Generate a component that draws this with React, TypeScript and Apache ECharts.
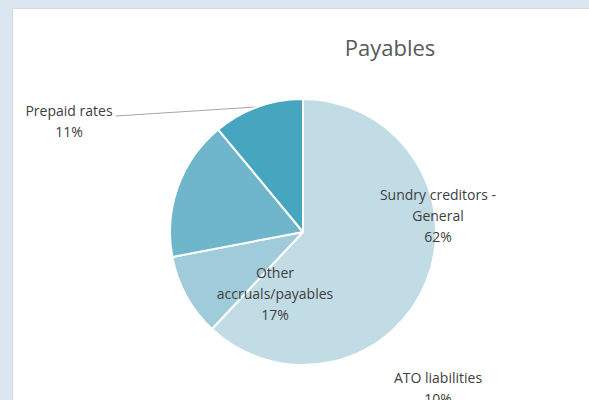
import React, { useEffect, useRef } from "react";
import * as echarts from "echarts";

const TITLE = "Payables";
const categories = ["Sundry creditors - General", "ATO liabilities", "Other accruals/payables", "Prepaid rates"];
const labelNames = ["Sundry creditors -\nGeneral", "ATO liabilities", "Other\naccruals/payables", "Prepaid rates"];
const values = [62, 10, 17, 11];
const colors = ["#c1dce5", "#9fcbdb", "#6fb6cc", "#46a5bf"];
// label centre positions (px) as placed in the original chart
const labelPos: [number, number][] = [
  [438, 215],
  [438, 388],
  [275, 293],
  [69, 121],
];

export default function App() {
  const ref = useRef<HTMLDivElement>(null);
  useEffect(() => {
    document.body.style.margin = "0";
    const chart = echarts.init(ref.current!, null, { renderer: "svg" });
    const font = "'Open Sans', 'Noto Sans', sans-serif";
    chart.setOption({
      animation: false,
      backgroundColor: "#dce6f0",
      graphic: [
        {
          type: "rect",
          z: -10,
          silent: true,
          shape: { x: 12.5, y: 8.5, width: 600, height: 420 },
          style: { fill: "#ffffff", stroke: "#d4d8dc", lineWidth: 1 },
        },
      ],
      title: {
        text: TITLE,
        left: 385,
        top: 31,
        textAlign: "center",
        textStyle: { fontFamily: font, fontSize: 22, fontWeight: "normal", color: "#595959" },
      },
      series: [
        {
          type: "pie",
          center: [303, 232],
          radius: 133,
          startAngle: 90,
          clockwise: true,
          itemStyle: { borderColor: "#ffffff", borderWidth: 2 },
          label: {
            show: true,
            position: "inside",
            overflow: "none",
            fontFamily: font,
            fontSize: 14,
            lineHeight: 21,
            color: "#404040",
            align: "center",
            formatter: (p: any) => `${labelNames[p.dataIndex]}\n${Math.round(p.percent)}%`,
          },
          labelLine: { show: false },
          labelLayout: (p: any) => {
            const [x, y] = labelPos[p.dataIndex];
            const res: any = { x, y, align: "center", verticalAlign: "middle" };
            if (p.dataIndex === 3 && p.labelLinePoints) {
              const start = p.labelLinePoints[0];
              res.labelLinePoints = [start, start, [x + p.labelRect.width / 2 + 3, y - 5]];
            }
            return res;
          },
          data: categories.map((name, i) => ({
            name,
            value: values[i],
            itemStyle: { color: colors[i] },
            label: i === 3 ? { position: "outside" } : undefined,
            labelLine: i === 3 ? { show: true, lineStyle: { color: "#a6a6a6", width: 1 } } : { show: false },
          })),
        },
      ],
    });
    return () => chart.dispose();
  }, []);
  return <div ref={ref} style={{ width: 589, height: 400 }} />;
}
